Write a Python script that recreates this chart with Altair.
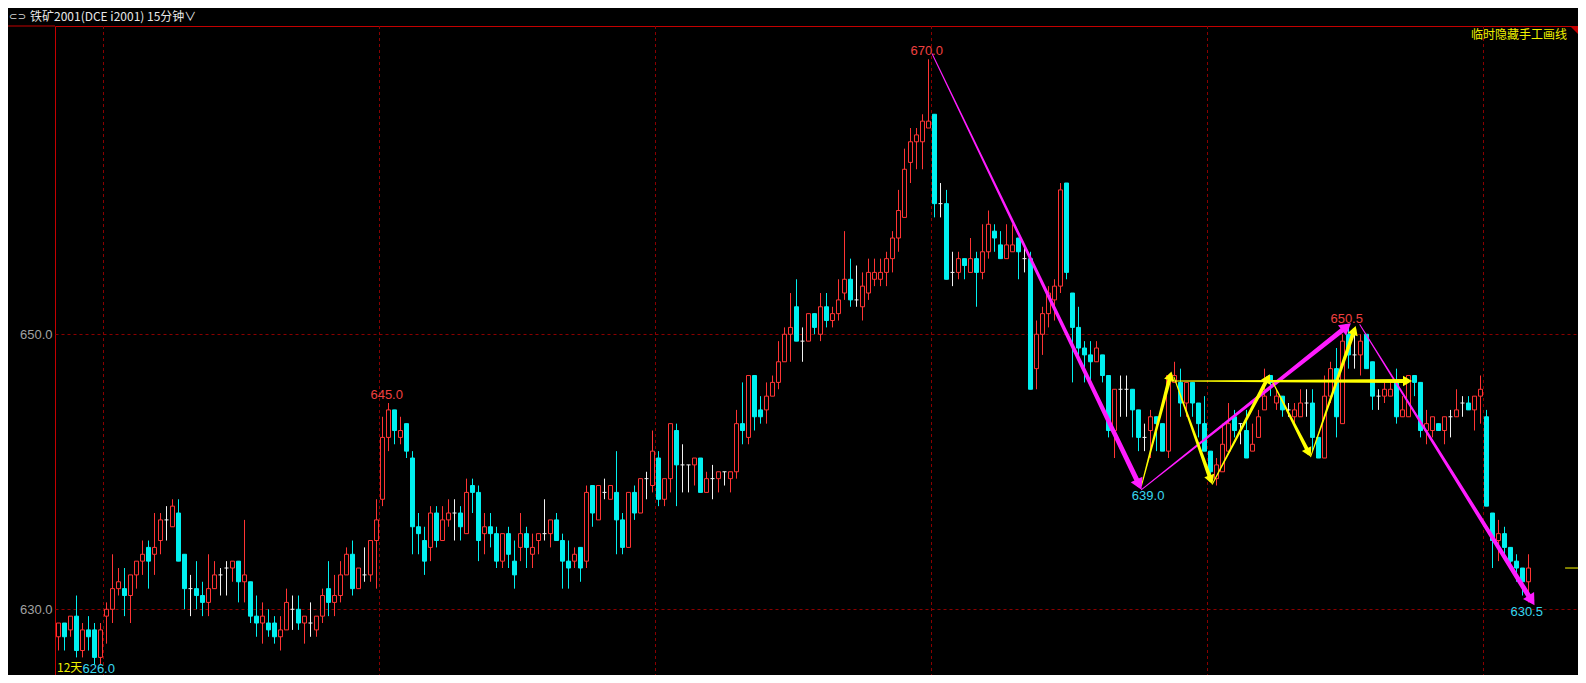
import math
import altair as alt
import pandas as pd

# ---------------- data ----------------
opens = [
    628, 629, 628.5, 629.5, 627, 628.5, 628.5, 626.5, 629.5, 630,
    631.5, 631.5, 631, 632.5, 633.5, 634.5, 634, 635, 636.5, 636,
    637, 634, 631.5, 631.5, 631, 630.5, 631.5, 632.5, 633, 633,
    633.5, 632, 632, 629.5, 629, 629, 629, 628, 628.5, 630,
    630, 629, 629, 628.5, 629.5, 631.5, 630.5, 631, 632.5, 634,
    631.5, 632.5, 632.5, 635, 638, 642.5, 644.5, 642.5, 643.5, 641,
    636, 635, 634.5, 637, 635, 636.5, 637, 637, 635.5, 639,
    638.5, 635.5, 636, 635.5, 633.5, 635.5, 633.5, 634.5, 635.5, 634,
    635, 635.5, 635.5, 636.5, 635, 633.5, 633.5, 634.5, 633.5, 639,
    636.5, 638.5, 638, 638.5, 636.5, 634.5, 638.5, 637, 639.5, 639,
    641, 638, 639.5, 643, 640.5, 640.5, 640.5, 641, 638.5, 639.5,
    639.5, 640, 639.5, 640, 643.5, 642.5, 647, 644.5, 644.5, 645.5,
    646.5, 648, 650, 652, 649.5, 649.5, 651.5, 650, 652, 651,
    651.5, 653, 654, 652.5, 652, 653, 654, 654, 654.5, 655.5,
    657, 658.5, 662.5, 664, 664, 665, 666, 659.5, 659.5, 654.5,
    654.5, 655.5, 654.5, 655.5, 654.5, 656, 657.5, 656.5, 655.5, 656,
    657, 655.5, 655.5, 647.5, 650, 651.5, 652.5, 653.5, 661, 653,
    650.5, 649, 648.5, 648, 648.5, 647, 643, 646, 646, 646,
    644.5, 642.5, 643, 644, 643.5, 641.5, 646.5, 646.5, 645, 646.5,
    645, 643.5, 641.5, 639.5, 640, 641.5, 644, 643.5, 643, 641.5,
    642.5, 644.5, 647, 645, 645.5, 644.5, 644, 644, 645, 645,
    642.5, 641, 645.5, 647.5, 643.5, 650, 648.5, 648.5, 650, 648,
    645.5, 645.5, 645.5, 646.5, 644, 644, 647, 646.5, 643, 643,
    643.5, 643, 644, 644, 645, 645, 644.5, 645.5, 644, 637,
    635, 635.5, 634.5, 633.5, 633, 632,
]
closes = [
    629, 628, 629.5, 627, 628.5, 628, 626.5, 628.5, 630, 631.5,
    632, 631, 632.5, 633.5, 634, 633.5, 634.5, 636.5, 636.5, 637.5,
    633.5, 631.5, 631.5, 631, 630.5, 631.5, 632.5, 632.5, 633, 633.5,
    632, 632.5, 629.5, 629, 629.5, 628.5, 628, 628.5, 630.5, 630,
    629, 629.5, 629, 629.5, 631, 630.5, 631, 632.5, 634, 631.5,
    633, 632.5, 635, 636.5, 642.5, 644.5, 643, 643, 641.5, 636,
    635.5, 633.5, 637, 635, 636.5, 637, 637, 636, 638.5, 638.5,
    635, 636, 635.5, 633.5, 635.5, 634, 632.5, 635.5, 634.5, 634.5,
    635.5, 635.5, 636.5, 635, 633.5, 633, 634, 633, 638.5, 637,
    639, 638.5, 639, 636.5, 634.5, 638.5, 637, 639.5, 639.5, 641.5,
    638, 639.5, 643.5, 640.5, 640.5, 640.5, 641, 638.5, 639.5, 639.5,
    640, 640, 640, 643.5, 643, 647, 644, 644, 645.5, 646.5,
    648, 650, 650.5, 649.5, 649.5, 651.5, 650.5, 652, 651, 651.5,
    652.5, 654, 652.5, 652.5, 653.5, 654.5, 654.5, 654.5, 655.5, 657,
    659, 662, 664, 664.5, 665.5, 665.5, 659.5, 659.5, 654, 654.5,
    655.5, 655, 655.5, 654.5, 656, 658, 657, 655.5, 656.5, 656.5,
    656, 655.5, 646, 650, 651.5, 653, 653.5, 660.5, 654.5, 650.5,
    649, 648.5, 648, 649, 647, 643, 646, 646, 646, 644.5,
    642.5, 642.5, 644, 643.5, 641.5, 647, 647, 645, 646.5, 645,
    643.5, 641.5, 640, 640.5, 642, 643.5, 643, 643.5, 641, 642,
    644, 645.5, 646.5, 645.5, 644.5, 644.5, 644.5, 645, 645, 642.5,
    641, 645.5, 647.5, 644, 649.5, 648.5, 648.5, 649.5, 647.5, 645.5,
    645.5, 646, 646, 644, 644.5, 647, 646.5, 643, 643.5, 644,
    643, 644, 644, 644.5, 645, 644.5, 645.5, 646, 637.5, 635,
    635.5, 634.5, 633.5, 633, 632, 633,
]
highs = [
    629, 629, 629.5, 631, 629, 629.5, 629, 629, 630.5, 634,
    633, 633, 632.5, 633.5, 635, 635, 637, 637, 637.5, 638,
    638, 634, 632.5, 633.5, 632, 634, 633.5, 633, 633.5, 633.5,
    633.5, 636.5, 632, 631, 630.5, 630, 629.5, 629.5, 631.5, 631,
    631, 629.5, 630.5, 629.5, 631.5, 633.5, 632.5, 633.5, 634.5, 635,
    633, 634.5, 635, 638, 644, 645, 644.5, 644, 643.5, 641.5,
    637, 636, 637.5, 637.5, 637.5, 638, 638, 637.5, 639.5, 639.5,
    639, 637, 637, 636, 635.5, 636, 635, 637, 636, 635.5,
    635.5, 638, 636.5, 637, 635.5, 635, 634.5, 634.5, 639, 639,
    639, 639.5, 639, 641.5, 637, 638.5, 639, 639.5, 640, 643,
    641.5, 639.5, 643.5, 643.5, 642, 640.5, 641, 641, 640, 640.5,
    640, 640, 640, 644.5, 646.5, 647, 647, 645.5, 646.5, 647,
    649.5, 650.5, 653, 654, 650.5, 651.5, 651.5, 653, 653, 652,
    654, 657.5, 655.5, 655, 654.5, 655.5, 655.5, 655.5, 656, 657.5,
    660.5, 663.5, 665, 665, 666, 670, 666, 661, 660.5, 656,
    656, 655.5, 657, 656, 658, 659, 658, 657.5, 658, 658,
    657, 656.5, 656, 651, 652, 653.5, 654, 661, 661, 653,
    652, 649.5, 649.5, 649.5, 648.5, 647, 646, 647, 647, 646,
    644.5, 643.5, 644.5, 644, 643.5, 647, 648, 647.5, 646.5, 646.5,
    645, 645.5, 641.5, 641, 643.5, 645, 644.5, 643.5, 644.5, 643.5,
    644.5, 647.5, 647, 646, 645.5, 645, 645, 646, 646, 646,
    642.5, 647, 648, 649, 650, 650.5, 650, 650, 650, 648,
    646, 646.5, 646.5, 647.5, 645.5, 647, 647, 646.5, 644.5, 644,
    643.5, 644, 644.5, 646, 645.5, 645.5, 645.5, 647, 644.5, 637,
    636.5, 636, 634.5, 634, 633, 634,
]
lows = [
    627, 627, 628, 626.5, 626.5, 627, 626, 626, 627.5, 629,
    631, 629.5, 629, 631.5, 632.5, 631.5, 632.5, 634, 635, 636,
    633.5, 630, 629.5, 630, 629.5, 629.5, 631.5, 631, 631, 632,
    630.5, 630.5, 629, 628, 627.5, 628, 627.5, 627, 628.5, 628.5,
    628.5, 627.5, 628, 628, 629, 629.5, 629.5, 630.5, 632.5, 631,
    631.5, 632, 632, 631.5, 637.5, 641.5, 642, 642, 641, 634,
    634, 632.5, 633.5, 634.5, 635, 636, 635, 635, 635.5, 637,
    633.5, 634, 634.5, 633, 633, 633, 631.5, 633.5, 633, 633,
    634, 635, 634.5, 635, 631.5, 631.5, 633, 632, 633, 636,
    636.5, 638, 638, 634, 634, 634.5, 636.5, 637, 638, 638.5,
    637.5, 637.5, 638.5, 637.5, 638.5, 638.5, 639, 638.5, 638.5, 638,
    638.5, 639, 638.5, 639.5, 642, 642, 643, 643.5, 643.5, 645.5,
    646, 648, 648, 649.5, 648, 649.5, 650, 649.5, 650.5, 650.5,
    651, 652.5, 652, 652, 651, 652.5, 653.5, 653.5, 653.5, 654.5,
    656, 658.5, 661, 662, 662, 665, 658.5, 658.5, 654, 653.5,
    654, 654, 654.5, 652, 654, 655.5, 656, 655.5, 655.5, 656,
    654, 654.5, 646, 646, 648.5, 650.5, 651, 653, 654, 646.5,
    648.5, 646.5, 646.5, 648, 646.5, 642.5, 641, 644, 644, 642.5,
    641.5, 641.5, 641, 641.5, 641.5, 641, 646.5, 644, 644, 644,
    642.5, 641.5, 639.5, 639, 640, 641.5, 642.5, 642, 641, 641.5,
    642.5, 644.5, 645.5, 644.5, 644, 644, 643.5, 644, 644, 641.5,
    641, 641, 645, 642.5, 643.5, 647.5, 647.5, 647, 647.5, 644.5,
    644.5, 645, 645.5, 643.5, 644, 644, 645.5, 642.5, 642, 642.5,
    643, 642, 642.5, 644, 644, 644.5, 643, 643.5, 637.5, 633,
    633.5, 634, 633, 632, 631, 630.5,
]

# hand-drawn arrows: (start bar, start price, end bar, end price)
magenta_arrows = [
    (145.6, 670.4, 180.5, 638.7),
    (180.5, 638.7, 215.4, 650.8),
    (216.9, 650.7, 246.0, 630.3),
]
yellow_arrows = [
    (180.5, 639.0, 185.5, 647.3),
    (185.9, 646.9, 192.3, 639.1),
    (192.3, 639.1, 201.9, 647.1),
    (202.4, 646.5, 208.7, 641.1),
    (208.7, 641.1, 216.2, 650.6),
    (185.5, 646.6, 225.6, 646.6),
]
# price labels
high_labels = [(144.7, 670.0, "670.0"), (54.7, 645.0, "645.0"), (214.7, 650.5, "650.5")]
low_labels = [(181.6, 639.0, "639.0"), (244.7, 630.5, "630.5")]
corner_low = [(6.7, 626.0, "626.0")]
day_lines = [7.5, 53.5, 99.5, 145.5, 191.5, 237.5]
y_ticks = [630, 650]
last_price = 633.0

# ---------------- styling ----------------
RED = "#ff3434"
CYAN = "#00f0f0"
WHITE = "#f2f2f2"
GRID = "#8a0000"
BORDER = "#c40000"
MAG = "#ff1cff"
YEL = "#ffff00"
RED_T = "#f04040"
CYAN_T = "#38d8f0"
NUMFONT = "Liberation Sans"
CJK = "Noto Sans CJK SC"

W, H = 1523, 649
SX = 6.0
XMIN = -0.5 - 0.5 / SX
XMAX = XMIN + W / SX
YMAX = 672.42
SY = 13.75
YMIN = YMAX - H / SY

xs = alt.Scale(domain=[XMIN, XMAX], nice=False, zero=False)
ys = alt.Scale(domain=[YMIN, YMAX], nice=False, zero=False)
yaxis = alt.Axis(values=y_ticks, format=".1f", grid=True, gridColor=GRID,
                 gridDash=[3, 3], gridWidth=1, domain=False, ticks=False, tickSize=0,
                 labelColor="#a2a2a2", labelFont=NUMFONT, labelFontSize=13,
                 labelPadding=3, title=None)


def X(f):
    return alt.X(f, scale=xs, axis=None)


def Y(f):
    return alt.Y(f, scale=ys, axis=yaxis)


n = len(opens)
bars = pd.DataFrame({"i": list(range(n)), "open": opens, "close": closes,
                     "high": highs, "low": lows})
bars["high"] = bars[["high", "open", "close"]].max(axis=1)
bars["low"] = bars[["low", "open", "close"]].min(axis=1)
bars["dir"] = ["up" if c > o else ("down" if c < o else "flat") for o, c in zip(opens, closes)]
bars["col"] = bars["dir"].map({"up": RED, "down": CYAN, "flat": WHITE})
bars["fillc"] = bars["dir"].map({"up": "#000000", "down": CYAN, "flat": WHITE})

base = alt.Chart(bars).transform_calculate(xl="datum.i - 2/6", xr="datum.i + 2/6")

grid_v = alt.Chart(pd.DataFrame({"x": day_lines})).mark_rule(
    color=GRID, strokeDash=[3, 3], strokeWidth=1
).encode(x=X("x:Q"))

wicks = base.mark_rule(strokeWidth=1).encode(
    x=X("i:Q"), y=Y("low:Q"), y2="high:Q", color=alt.Color("col:N", scale=None))

bodies = base.transform_filter("datum.dir != 'flat'").mark_rect(strokeWidth=1).encode(
    x=X("xl:Q"), x2="xr:Q", y=Y("open:Q"), y2="close:Q",
    fill=alt.Fill("fillc:N", scale=None), stroke=alt.Stroke("col:N", scale=None))

doji = base.transform_filter("datum.dir == 'flat'").mark_rule(strokeWidth=1, color=WHITE).encode(
    x=X("xl:Q"), x2="xr:Q", y=Y("open:Q"))

# arrows (tapered trails + heads)
trail_rows, head_rows = [], []
for group, color, w_end, hsize in ((magenta_arrows, MAG, 5.0, 170), (yellow_arrows, YEL, 4.0, 110)):
    for k, (x0, p0, x1, p1) in enumerate(group):
        dxp = (x1 - x0) * SX
        dyp = -(p1 - p0) * SY
        L = math.hypot(dxp, dyp)
        ux, uy = dxp / L, dyp / L
        back = 0.433 * math.sqrt(hsize)
        cx = x1 - ux * back / SX
        cp = p1 + uy * back / SY
        ang = math.degrees(math.atan2(ux, -uy)) % 360
        seg = f"{color}-{k}"
        trail_rows.append({"seg": seg, "ord": 0, "x": x0, "p": p0, "w": 1.0, "col": color})
        trail_rows.append({"seg": seg, "ord": 1, "x": cx, "p": cp, "w": w_end, "col": color})
        head_rows.append({"x": cx, "p": cp, "ang": ang, "s": hsize, "col": color})

trails = alt.Chart(pd.DataFrame(trail_rows)).mark_trail().encode(
    x=X("x:Q"), y=Y("p:Q"), size=alt.Size("w:Q", scale=None),
    detail="seg:N", order=alt.Order("ord:Q"), color=alt.Color("col:N", scale=None))

heads = alt.Chart(pd.DataFrame(head_rows)).mark_point(
    shape="triangle-up", filled=True, opacity=1, strokeWidth=0
).encode(x=X("x:Q"), y=Y("p:Q"), size=alt.Size("s:Q", scale=None),
         angle=alt.Angle("ang:Q", scale=None), color=alt.Color("col:N", scale=None))

last_mark = alt.Chart(pd.DataFrame({"x0": [251.1], "x1": [XMAX], "p": [last_price]})).mark_rule(
    color=YEL, strokeWidth=1).encode(x=X("x0:Q"), x2="x1:Q", y=Y("p:Q"))

hl = pd.DataFrame(high_labels, columns=["x", "p", "t"])
ll = pd.DataFrame(low_labels, columns=["x", "p", "t"])
cl = pd.DataFrame(corner_low, columns=["x", "p", "t"])

txt_high = alt.Chart(hl).mark_text(font=NUMFONT, fontSize=13, color=RED_T, baseline="alphabetic",
                                   dy=-4).encode(x=X("x:Q"), y=Y("p:Q"), text="t:N")
txt_low = alt.Chart(ll).mark_text(font=NUMFONT, fontSize=13, color=CYAN_T, baseline="alphabetic",
                                  dy=14).encode(x=X("x:Q"), y=Y("p:Q"), text="t:N")
txt_corner = alt.Chart(cl).mark_text(font=NUMFONT, fontSize=13, color=CYAN_T, baseline="alphabetic",
                                     dy=9).encode(x=X("x:Q"), y=Y("p:Q"), text="t:N")

days_txt = alt.Chart(pd.DataFrame({"t": ["12天"]})).mark_text(
    font=CJK, fontSize=12, color="#f0f000", align="left", baseline="alphabetic"
).encode(x=alt.value(2), y=alt.value(H - 3), text="t:N")

header_icon = alt.Chart(pd.DataFrame({"t": ["⊂⊃"]})).mark_text(
    font="DejaVu Sans", fontSize=10, color="#d8d8d8", align="left", baseline="middle"
).encode(x=alt.value(-46), y=alt.value(-9), text="t:N")
header = alt.Chart(pd.DataFrame({"t": ["铁矿2001(DCE i2001)  15分钟∨"]})).mark_text(
    font=CJK, fontSize=12, color="#e8e8e8", align="left", baseline="middle"
).encode(x=alt.value(-25), y=alt.value(-9), text="t:N")
hide_txt = alt.Chart(pd.DataFrame({"t": ["临时隐藏手工画线"]})).mark_text(
    font=CJK, fontSize=12, color="#f0f000", align="right", baseline="middle"
).encode(x=alt.value(W - 11), y=alt.value(9), text="t:N")

top_line = alt.Chart(pd.DataFrame({"a": [0]})).mark_rule(color=BORDER, strokeWidth=1).encode(
    x=alt.value(-52), x2=alt.value(0), y=alt.value(0))
corner_tri = alt.Chart(pd.DataFrame({"a": [0]})).mark_point(
    shape="M -1 -1 L 1 -1 L 1 1 Z", filled=True, opacity=1, color=BORDER, size=64, strokeWidth=0
).encode(x=alt.value(W - 4), y=alt.value(4))

chart = alt.layer(
    grid_v, wicks, bodies, doji, trails, heads, last_mark,
    txt_high, txt_low, txt_corner, days_txt, header_icon, header, hide_txt, top_line, corner_tri
).properties(
    width=W, height=H,
    padding={"left": 47, "top": 18, "right": 0, "bottom": 0},
    autosize=alt.AutoSizeParams(type="none"),
    background="#000000",
).configure_view(stroke=BORDER, strokeWidth=1)

chart.save("out.html", embed_options={"renderer": "svg", "actions": False})
